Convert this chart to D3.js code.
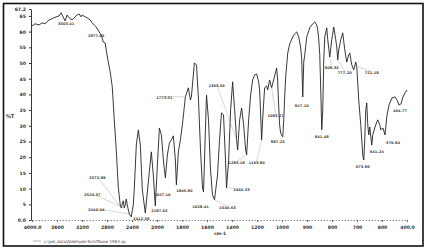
<!DOCTYPE html>
<html>
<head>
<meta charset="utf-8">
<script src="https://cdn.jsdelivr.net/npm/d3@7"></script>
<style>
  body { margin: 0; background: #fff; }
  text { font-family: "DejaVu Sans", sans-serif; }
</style>
</head>
<body>
<script>
// ---- data ----
const xTickValues = [4000,3600,3200,2800,2400,2000,1800,1600,1400,1200,1000,900,800,700,600,400];
const xTickLabels = ["4000.0","3600","3200","2800","2400","2000","1800","1600","1400","1200","1000","900","800","700","600","400.0"];
const yTickValues = [0,5,10,15,20,25,30,35,40,45,50,55,60,65,67.2];
const yTickLabels = ["0.0","5","10","15","20","25","30","35","40","45","50","55","60","65","67.2"];

const wavenumber = [4000,3952,3888,3840,3791,3727,3679,3615,3567,3535,3503,3471,3438,3406,3358,3310,3278,3246,3214,3198,
  3150,3118,3069,3037,3005,2973,2925,2893,2877,2861,2829,2813,2781,2749,2716,2700,2684,2652,2620,2588,
  2572,2556,2540,2524,2508,2492,2476,2444,2412,2380,2364,2331,2299,2267,2235,2187,2139,2091,2059,2027,
  1997,1981,1965,1949,1933,1917,1901,1885,1869,1853,1845,1829,1813,1797,1773,1749,1733,1725,1701,1684,
  1668,1652,1636,1628,1620,1604,1588,1572,1556,1540,1516,1500,1484,1468,1452,1444,1427,1411,1395,1379,
  1363,1355,1339,1323,1307,1291,1283,1267,1251,1235,1219,1203,1187,1179,1171,1163,1155,1139,1123,1115,
  1099,1083,1067,1051,1043,1035,1027,1019,1011,
  997,993,989,985,977,969,957,949,941,933,925,921,917,913,909,901,889,881,869,861,
  857,853,849,845,841,837,833,829,821,817,809,801,793,785,781,777,773,765,757,749,
  741,733,729,721,713,705,701,693,685,681,677,673,669,665,661,657,653,649,641,637,
  629,621,617,609,605,
  592,576,560,544,520,496,480,464,448,432,416,400];
const transmittance = [61.8,62.5,62.1,62.8,62.5,63.7,64.1,64.7,65.0,66.0,64.7,63.4,65.3,64.4,63.7,64.7,65.3,65.6,64.7,65.3,
  64.7,64.4,63.7,62.8,62.1,61.5,59.9,59.0,58.0,56.7,56.4,54.2,50.4,47.2,42.4,37.3,31.9,22.3,10.5,4.8,
  3.8,5.1,6.1,3.8,4.8,6.7,4.8,1.9,1.0,4.8,9.6,23.9,28.7,23.9,9.6,2.2,12.1,21.7,14.3,4.5,
  17.5,29.3,27.1,19.1,13.4,20.7,24.5,25.5,26.8,19.1,11.2,21.7,25.5,30.3,39.2,42.1,38.2,39.2,50.0,49.4,
  38.2,22.3,10.2,8.9,19.1,39.8,31.9,15.9,8.0,6.4,14.3,25.5,34.1,33.5,19.1,10.2,19.1,35.1,44.0,35.1,
  25.5,22.3,31.9,35.7,30.3,22.3,20.7,31.9,39.8,44.6,46.2,46.5,44.0,41.4,33.5,25.5,31.9,42.1,42.7,41.4,
  44.6,42.1,44.6,47.2,48.4,44.6,36.6,30.3,27.7,
  26.5,31.9,39.8,45.9,53.2,56.1,58.3,59.3,59.9,58.3,54.8,51.0,39.2,50.3,52.6,58.3,61.2,62.1,63.1,62.1,
  60.5,57.4,52.6,41.4,28.7,35.1,51.0,58.3,61.2,57.4,51.9,57.4,61.5,57.4,55.1,51.0,54.2,57.4,59.6,54.2,
  50.3,52.6,53.2,49.4,47.8,50.3,48.8,38.2,30.3,25.5,20.7,19.1,25.5,35.1,37.3,30.3,27.1,29.6,23.9,27.1,
  29.3,31.2,31.9,30.3,28.7,
  29.3,27.1,33.5,36.6,38.9,39.2,38.2,36.6,37.0,39.2,40.5,41.4];

const peakWn = [3503,2877,2572,2524,2444,2412,2187,2027,1845,1773,1628,1540,1444,1363,1283,1163,1083,997,917,841,809,777,721,673,641,576,464];
const peakText = ["3503.41","2877.60","2572.89","2524.37","2444.44","2412.58","2187.02","2027.16","1845.90","1773.51","1628.41","1540.63","1444.33",
  "1363.56","1283.18","1163.90","1083.27","997.25","917.10","841.48","809.35","777.20","721.18","673.96","641.24","576.84","464.77"];
// label placement (pixel offsets from the peak) and whether a leader line is drawn
const peakLayout = [[3,7,0],[-6,-2,0],[-24,-30,1],[-32,-13,1],[-33,-4,1],[10,2,0],[14,-2,0],[7,-11,0],[8,6,0],[-21,1,1],
  [-3,15,0],[13,8,1],[15,2,1],[-20,-54,1],[-10,8,1],[-5,23,1],[4,28,1],[-5,5,0],[-1,9,0],[0,7,0],[2,11,1],[7,13,1],[20,8,1],
  [-1,7,0],[5,7,0],[8,8,0],[1,6,0]];

const legendText = "c:\\pel_data\\Aldehyde-Schiffbase 1983.sp";

// ---- drawing ----
const W = 427, H = 250;
const svg = d3.select("body").append("svg").attr("width", W).attr("height", H);

svg.append("rect").attr("x", 3.5).attr("y", 3.5).attr("width", 419.5).attr("height", 242.5)
  .attr("fill", "#fff").attr("stroke", "#111").attr("stroke-width", 1.6);

const x0 = 32, x1 = 407;
const x = d3.scaleLinear()
  .domain(xTickValues)
  .range(xTickValues.map((d, i) => x0 + i * (x1 - x0) / (xTickValues.length - 1)));
const y = d3.scaleLinear().domain([0, 67.2]).range([220, 9]);

// x axis
const gx = svg.append("g").attr("transform", "translate(0,220)")
  .call(d3.axisBottom(x).tickValues(xTickValues).tickFormat((d, i) => xTickLabels[i]).tickSize(2).tickSizeOuter(0));
gx.select(".domain").attr("stroke", "#888").attr("stroke-dasharray", "1.5,1.5");
gx.selectAll(".tick line").attr("stroke", "#666");
gx.selectAll(".tick text").attr("font-size", 4.6).attr("font-weight", "bold").attr("fill", "#333").attr("dy", "0.9em");

// y axis
const gy = svg.append("g").attr("transform", "translate(31,0)")
  .call(d3.axisLeft(y).tickValues(yTickValues).tickFormat((d, i) => yTickLabels[i]).tickSize(2).tickSizeOuter(0));
gy.select(".domain").attr("stroke", "#222").attr("stroke-width", 0.9);
gy.selectAll(".tick line").attr("stroke", "#333");
gy.selectAll(".tick text").attr("font-size", 4.6).attr("font-weight", "bold").attr("fill", "#333");

svg.append("text").attr("x", 10).attr("y", 118).attr("text-anchor", "middle")
  .attr("font-size", 5).attr("font-weight", "bold").attr("fill", "#333").text("%T");
svg.append("text").attr("x", 220).attr("y", 235).attr("text-anchor", "middle")
  .attr("font-size", 4.4).attr("font-weight", "bold").attr("fill", "#333").text("cm-1");

// legend
svg.append("line").attr("x1", 33).attr("x2", 41).attr("y1", 241).attr("y2", 241)
  .attr("stroke", "#999").attr("stroke-width", 0.8);
svg.append("text").attr("x", 44).attr("y", 242.5).attr("font-size", 4).attr("fill", "#444").text(legendText);

// spectrum
const pts = wavenumber.map((w, i) => [w, transmittance[i]]);
svg.append("path").datum(pts)
  .attr("fill", "none").attr("stroke", "#222").attr("stroke-width", 0.9).attr("stroke-linejoin", "round")
  .attr("d", d3.line().x(d => x(d[0])).y(d => y(d[1])));

// peak annotations
const tOf = w => transmittance[wavenumber.indexOf(w)];
peakWn.forEach((w, i) => {
  const px = x(w), py = y(tOf(w));
  const [dx, dy, lead] = peakLayout[i];
  if (lead) {
    svg.append("line").attr("x1", px).attr("y1", py).attr("x2", px + dx).attr("y2", py + dy - 1.5)
      .attr("stroke", "#999").attr("stroke-width", 0.4);
  }
  svg.append("text").attr("x", px + dx).attr("y", py + dy + 1.3).attr("text-anchor", "middle")
    .attr("font-size", 3.6).attr("font-weight", "bold").attr("fill", "#444").text(peakText[i]);
});
</script>
</body>
</html>
